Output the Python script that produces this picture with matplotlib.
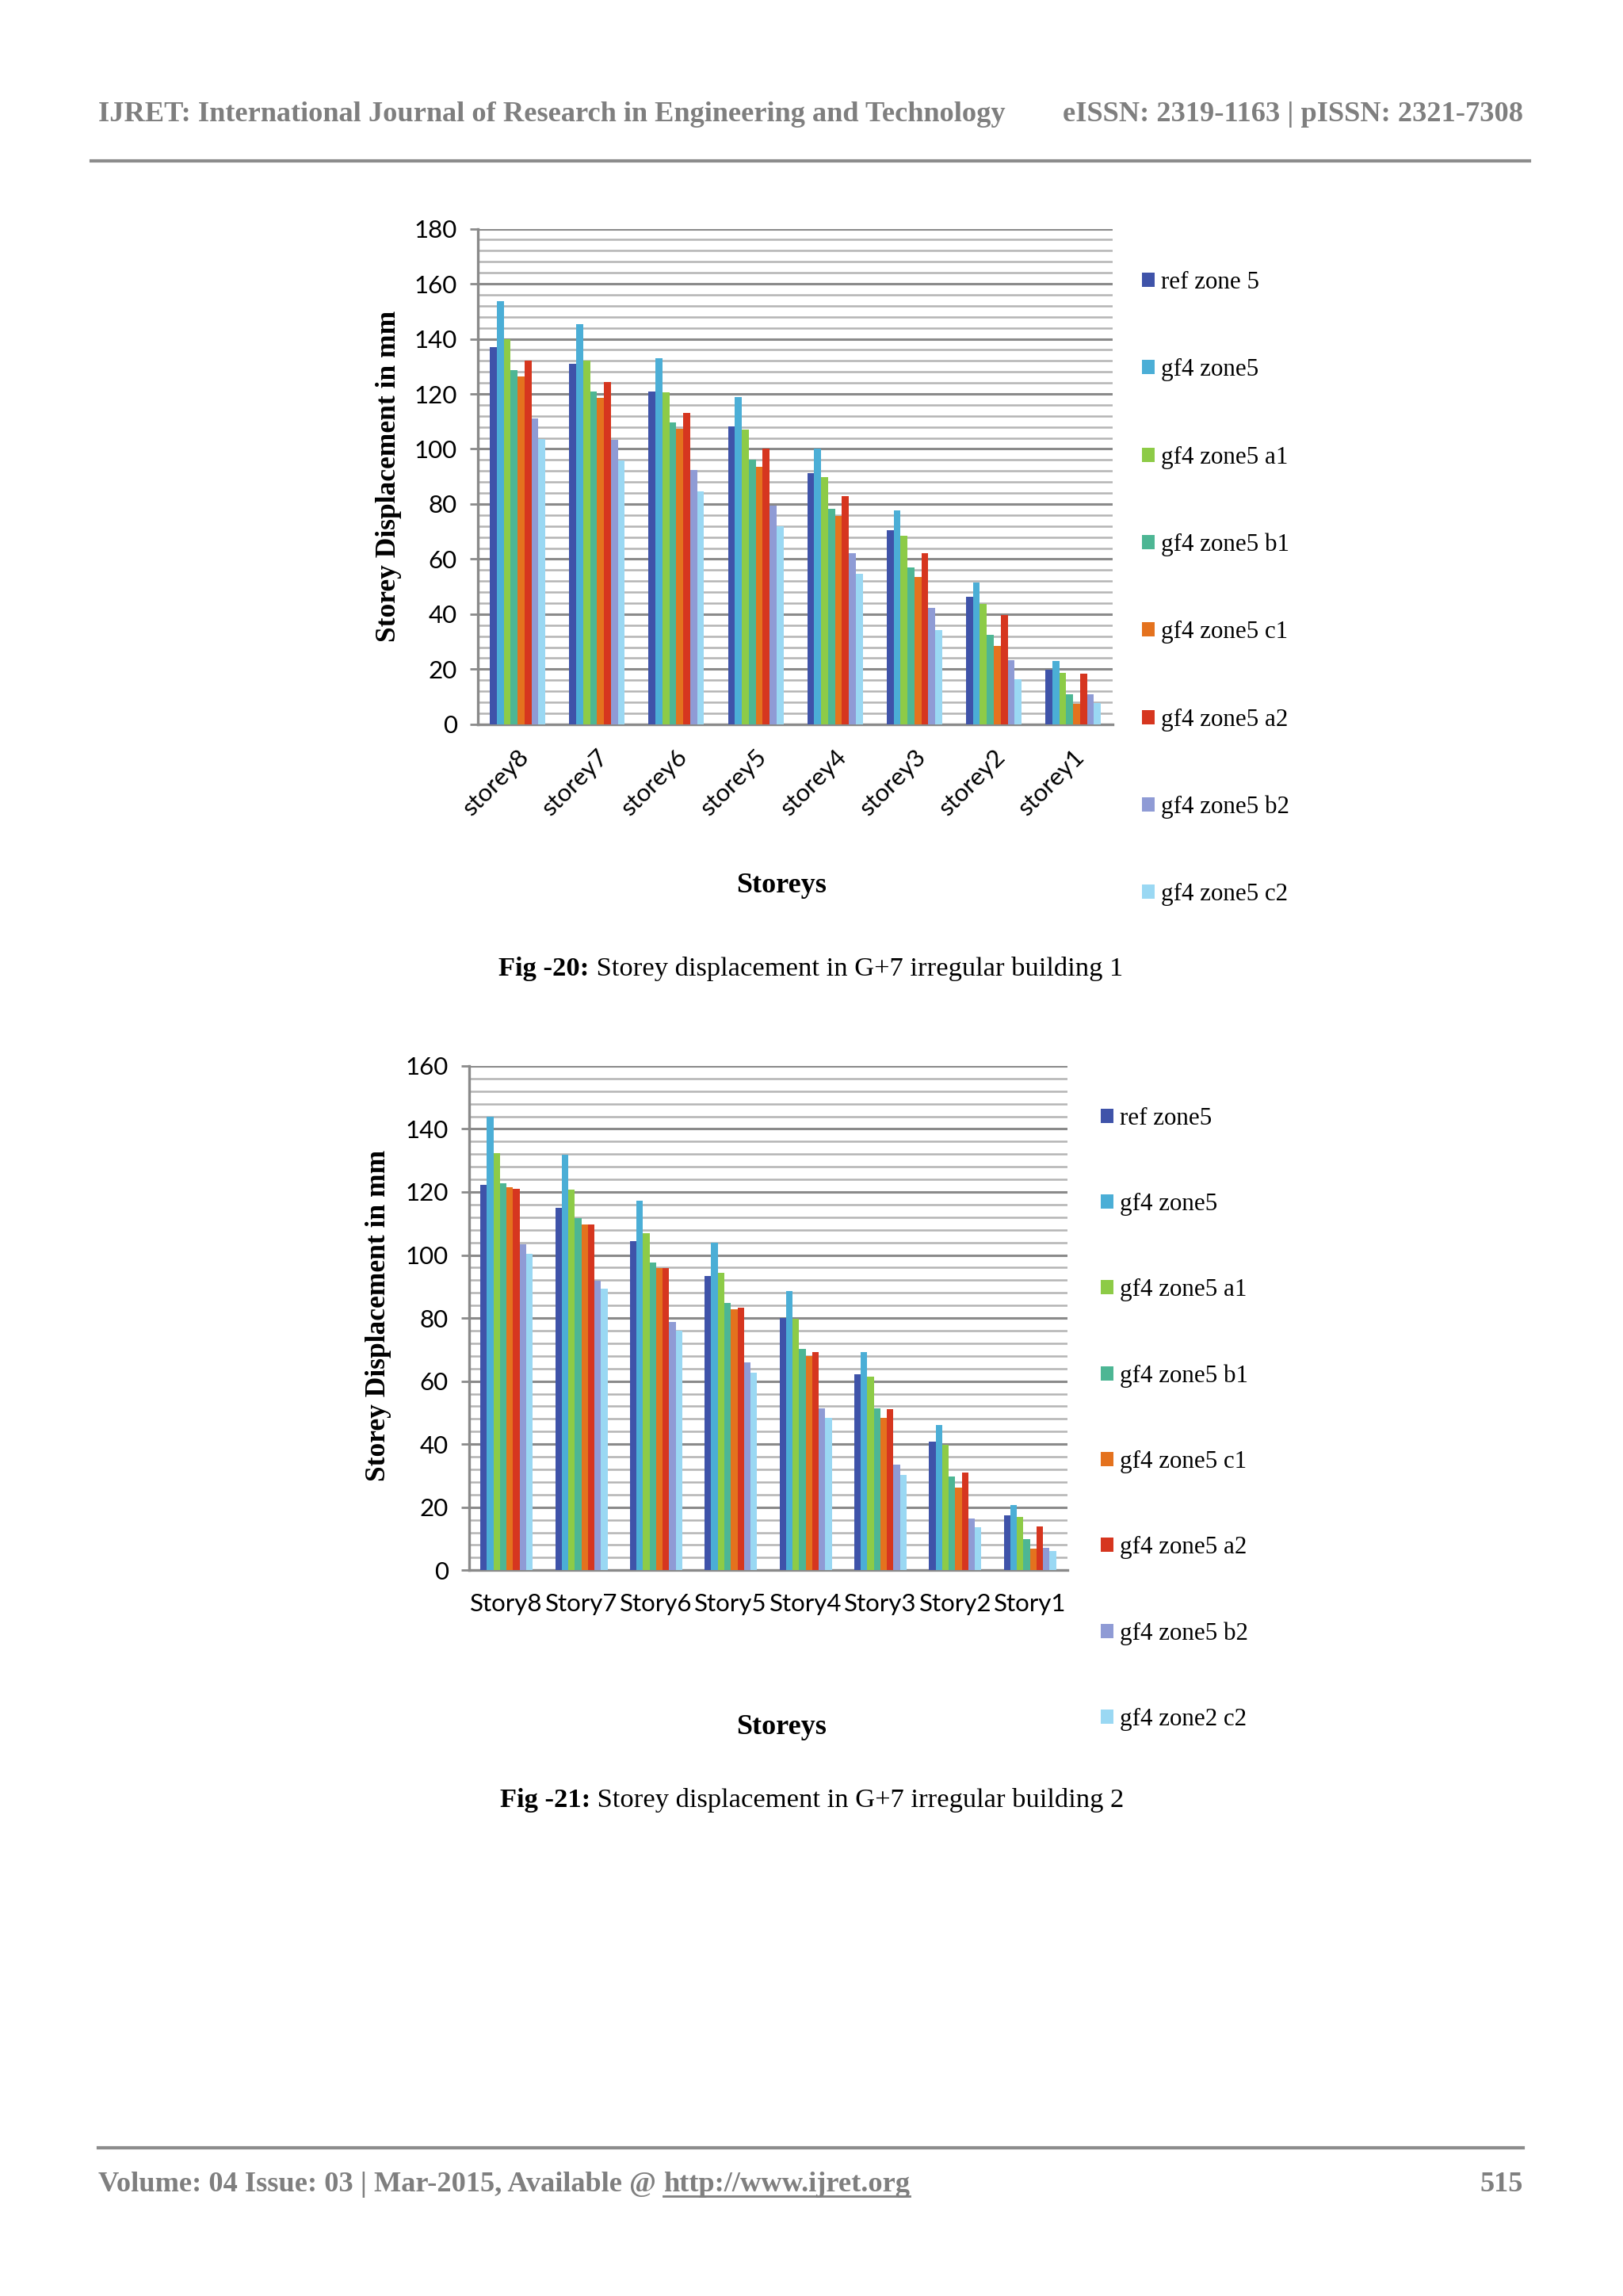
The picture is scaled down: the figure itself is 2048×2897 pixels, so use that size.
import numpy as np
import matplotlib
matplotlib.use("Agg")
import matplotlib.pyplot as plt
from matplotlib.ticker import MultipleLocator

# --- data ---
series1 = ["ref zone 5", "gf4 zone5", "gf4 zone5 a1", "gf4 zone5 b1",
           "gf4 zone5 c1", "gf4 zone5 a2", "gf4 zone5 b2", "gf4 zone5 c2"]
series2 = ["ref zone5", "gf4 zone5", "gf4 zone5 a1", "gf4 zone5 b1",
           "gf4 zone5 c1", "gf4 zone5 a2", "gf4 zone5 b2", "gf4 zone2 c2"]
storeys1 = ["storey8", "storey7", "storey6", "storey5", "storey4", "storey3", "storey2", "storey1"]
storeys2 = ["Story8", "Story7", "Story6", "Story5", "Story4", "Story3", "Story2", "Story1"]

# rows = series, columns = storeys (8 -> 1)
ref_1 = [137.0, 130.8, 120.8, 108.2, 91.3, 70.5, 46.2, 19.8]
gf4_1 = [153.6, 145.3, 133.1, 118.9, 100.1, 77.8, 51.6, 22.9]
a1_1 = [139.9, 132.0, 120.7, 107.1, 89.9, 68.4, 43.8, 18.7]
b1_1 = [128.5, 120.8, 109.5, 96.1, 78.4, 57.0, 32.6, 10.9]
c1_1 = [126.4, 118.6, 107.2, 93.4, 75.7, 53.6, 28.6, 7.5]
a2_1 = [132.0, 124.3, 113.2, 100.0, 83.0, 62.2, 39.8, 18.3]
b2_1 = [111.2, 103.3, 92.4, 79.3, 62.2, 42.2, 23.4, 10.9]
c2_1 = [103.5, 95.9, 84.7, 71.8, 54.6, 34.3, 16.4, 7.6]

ref_2 = [122.3, 114.9, 104.4, 93.4, 79.9, 62.2, 40.9, 17.5]
gf4_2 = [144.0, 131.9, 117.2, 103.8, 88.6, 69.3, 46.1, 20.8]
a1_2 = [132.3, 120.7, 106.9, 94.4, 79.7, 61.3, 39.7, 16.9]
b1_2 = [122.7, 111.6, 97.6, 84.9, 70.3, 51.4, 29.7, 9.9]
c1_2 = [121.4, 109.8, 95.8, 82.8, 67.9, 48.3, 26.2, 6.9]
a2_2 = [121.1, 109.7, 95.8, 83.4, 69.2, 51.0, 31.1, 14.0]
b2_2 = [103.4, 91.9, 78.7, 66.0, 51.4, 33.4, 16.4, 7.2]
c2_2 = [100.3, 89.3, 76.0, 62.8, 48.3, 30.2, 13.6, 6.0]

colors = ["#3F53A9", "#4BAED6", "#8DCB47", "#4DB694",
          "#E4721E", "#D6361F", "#8F9BD5", "#9AD8F3"]

W, H = 1107.0, 1566.0  # layout measured on the page thumbnail


def fx(x):
    return x / W


def fy(y):
    return 1 - y / H


fig = plt.figure(figsize=(20.48, 28.97), dpi=100)
fig.patch.set_facecolor("white")

SERIF = "Liberation Serif"
SANS = "Lato"
GRAY = "#7f7f7f"


def bar_chart(rect, data, names, cats, ymax, rotate):
    ax = fig.add_axes(rect)
    n = len(data)
    group = 0.70
    bw = group / n
    x = np.arange(len(cats))
    for i, (vals, name) in enumerate(zip(data, names)):
        ax.bar(x - group / 2 + bw * (i + 0.5), vals, width=bw, color=colors[i],
               label=name, zorder=3, linewidth=0)
    ax.set_xlim(-0.5, len(cats) - 0.5)
    ax.set_ylim(0, ymax)
    ax.yaxis.set_major_locator(MultipleLocator(20))
    ax.yaxis.set_minor_locator(MultipleLocator(4))
    ax.grid(True, which="major", axis="y", color="#8a8a8a", linewidth=2.2, zorder=0)
    ax.grid(True, which="minor", axis="y", color="#b4b4b4", linewidth=1.8, zorder=0)
    for s in ["top", "right"]:
        ax.spines[s].set_visible(False)
    for s in ["left", "bottom"]:
        ax.spines[s].set_color("#8a8a8a")
        ax.spines[s].set_linewidth(2.4)
    ax.tick_params(axis="y", which="major", length=7, width=2, color="#8a8a8a",
                   labelsize=22.5, pad=12)
    ax.tick_params(axis="y", which="minor", length=0)
    ax.set_xticks(x)
    if rotate:
        ax.set_xticklabels(cats, rotation=45, ha="right", rotation_mode="anchor")
        ax.tick_params(axis="x", length=0, labelsize=22.5, pad=19)
    else:
        ax.set_xticklabels(cats)
        ax.tick_params(axis="x", length=0, labelsize=22.5, pad=21)
    for lab in ax.get_xticklabels() + ax.get_yticklabels():
        lab.set_fontfamily(SANS)
    return ax


# chart 1
ax1 = bar_chart([fx(326), fy(494), fx(759) - fx(326), fy(156) - fy(494)],
                [ref_1, gf4_1, a1_1, b1_1, c1_1, a2_1, b2_1, c2_1],
                series1, storeys1, 180, True)
# chart 2
ax2 = bar_chart([fx(320), fy(1071), fx(728) - fx(320), fy(727) - fy(1071)],
                [ref_2, gf4_2, a1_2, b1_2, c1_2, a2_2, b2_2, c2_2],
                series2, storeys2, 160, False)

for ax, lx, ly, sp in [(ax1, 779, 185, 2.62), (ax2, 751, 755, 2.555)]:
    handles, labels = ax.get_legend_handles_labels()
    fig.legend(handles=handles, labels=labels,
               loc="upper left", bbox_to_anchor=(fx(lx), fy(ly)),
               frameon=False, borderpad=0, borderaxespad=0,
               handlelength=0.52, handleheight=0.52, handletextpad=0.25,
               labelspacing=sp, prop={"family": SERIF, "size": 22.3})

# axis titles
fig.text(fx(265), fy(325), "Storey Displacement in mm", rotation=90, ha="center",
         va="center", family=SERIF, weight="bold", size=25.5)
fig.text(fx(258), fy(897), "Storey Displacement in mm", rotation=90, ha="center",
         va="center", family=SERIF, weight="bold", size=25.5)
fig.text(fx(533), fy(604), "Storeys", ha="center", va="center", family=SERIF,
         weight="bold", size=26)
fig.text(fx(533), fy(1178), "Storeys", ha="center", va="center", family=SERIF,
         weight="bold", size=26)

renderer = fig.canvas.get_renderer()


def two_part(xc, y, first, rest, size, color="black"):
    t1 = fig.text(0, fy(y), first, family=SERIF, weight="bold", size=size,
                  color=color, va="center")
    t2 = fig.text(0, fy(y), rest, family=SERIF, size=size, color=color, va="center")
    w1 = t1.get_window_extent(renderer).width / fig.bbox.width
    w2 = t2.get_window_extent(renderer).width / fig.bbox.width
    x0 = fx(xc) - (w1 + w2) / 2
    t1.set_x(x0)
    t2.set_x(x0 + w1)


two_part(553, 661, "Fig -20:", " Storey displacement in G+7 irregular building 1", 24.8)
two_part(554, 1228, "Fig -21:", " Storey displacement in G+7 irregular building 2", 24.8)

# page header / footer
fig.text(fx(67), fy(78), "IJRET: International Journal of Research in Engineering and Technology",
         family=SERIF, weight="bold", size=26.2, color=GRAY, va="center", ha="left")
fig.text(fx(1039), fy(78), "eISSN: 2319-1163 | pISSN: 2321-7308",
         family=SERIF, weight="bold", size=26.2, color=GRAY, va="center", ha="right")
fig.add_artist(plt.Line2D([fx(62), fx(1043)], [fy(110), fy(110)], color="#8c8c8c", linewidth=3))
fig.add_artist(plt.Line2D([fx(67), fx(1039)], [fy(1465), fy(1465)], color="#8c8c8c", linewidth=3))

f1 = fig.text(fx(67), fy(1490), "Volume: 04 Issue: 03 | Mar-2015, Available @ ",
              family=SERIF, weight="bold", size=26.2, color=GRAY, va="center", ha="left")
wf = f1.get_window_extent(renderer).width / fig.bbox.width
url = fig.text(fx(67) + wf, fy(1490), "http://www.ijret.org",
               family=SERIF, weight="bold", size=26.2, color=GRAY, va="center", ha="left")
bb = url.get_window_extent(renderer).transformed(fig.transFigure.inverted())
fig.add_artist(plt.Line2D([bb.x0, bb.x1], [bb.y0 + 0.0005, bb.y0 + 0.0005],
                          color=GRAY, linewidth=2))
fig.text(fx(1039), fy(1490), "515", family=SERIF, weight="bold", size=26.2,
         color=GRAY, va="center", ha="right")

fig.savefig("out.png", dpi=100, facecolor="white")
